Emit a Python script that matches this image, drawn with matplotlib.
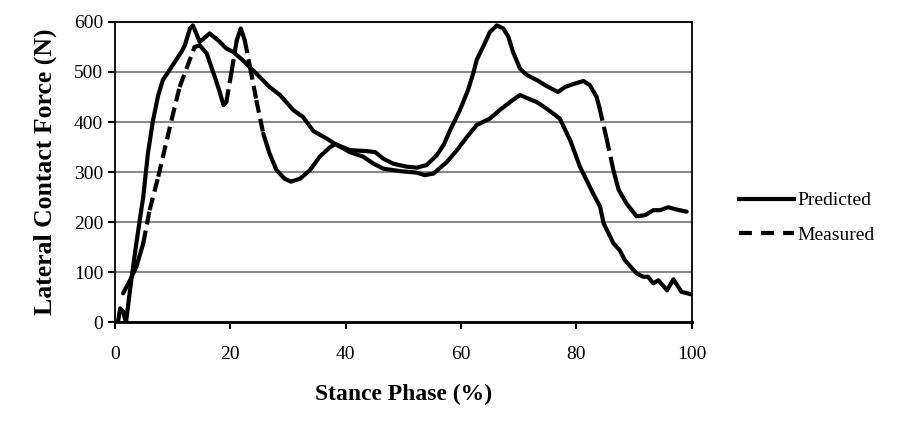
import numpy as np
import matplotlib
matplotlib.use("Agg")
from matplotlib import pyplot as plt
from matplotlib.lines import Line2D

plt.rcParams["font.family"] = ["Liberation Serif", "DejaVu Serif"]

# stance phase (%) / force (N)
pred_x = [0.5, 0.9, 1.4, 1.9, 2.9, 3.7, 4.9, 5.7, 6.6, 7.5, 8.3, 9.8, 11.5, 12.1, 13.0, 13.5,
          14.7, 16.4, 17.9, 19.3, 20.5, 22.2, 24.5, 26.8, 28.6, 30.9, 32.6, 34.4, 36.7, 38.2,
          40.7, 43.0, 44.8, 46.5, 49.4, 52.3, 53.7, 55.2, 57.5, 59.3, 61.0, 62.7, 65.0, 66.7,
          68.5, 70.2, 71.6, 73.1, 74.8, 77.1, 78.9, 80.6, 82.9, 84.1, 84.7, 86.4, 87.5, 88.4,
          90.4, 91.6, 92.4, 93.3, 94.2, 95.7, 96.8, 98.2, 99.9]
pred_y = [0, 28, 22, 0, 91, 158, 251, 337, 404, 454, 484, 510, 540, 553, 587, 593,
          560, 577, 563, 547, 540, 523, 497, 470, 454, 424, 410, 382, 367, 356,
          340, 331, 317, 307, 302, 299, 294, 297, 320, 344, 370, 394, 407, 424,
          440, 454, 447, 440, 427, 407, 364, 311, 257, 231, 198, 158, 144, 124,
          98, 91, 91, 78, 84, 64, 86, 61, 56]

meas_x = [1.4, 2.6, 3.7, 4.9, 6.0, 7.5, 9.8, 11.2, 13.8, 14.7, 15.9, 17.3, 18.1, 18.8,
          19.3, 20.2, 21.1, 21.8, 22.5, 23.4, 24.5, 25.7, 26.8, 28.0, 29.4, 30.5, 32.1, 33.8,
          35.5, 37.3, 38.2, 40.7, 43.6, 45.1, 46.5, 48.2, 50.5, 52.3, 54.0, 55.8, 57.0, 58.1,
          59.0, 59.8, 61.2, 62.1, 62.7, 63.8, 65.0, 66.2, 67.3, 68.2, 69.0, 70.2, 71.4, 73.1,
          74.8, 76.8, 78.0, 79.5, 81.2, 82.3, 83.5, 84.0, 85.2, 86.4, 87.3, 88.7, 90.4,
          91.9, 93.3, 94.5, 95.9, 97.1, 99.1]
meas_y = [58, 84, 111, 158, 224, 291, 404, 470, 550, 553, 537, 490, 462, 434,
          440, 500, 563, 587, 563, 510, 444, 377, 337, 304, 287, 281, 287, 304,
          331, 350, 356, 344, 342, 340, 327, 317, 311, 309, 314, 334, 355, 384,
          405, 424, 464, 497, 524, 550, 580, 593, 587, 570, 540, 507, 494, 484,
          472, 460, 470, 476, 482, 474, 450, 428, 368, 304, 265, 237, 212,
          214, 224, 224, 230, 226, 221]

x_ticks = [0, 20, 40, 60, 80, 100]
y_ticks = [0, 100, 200, 300, 400, 500, 600]

LW = 3.0
DASH = (3.1, 1.5)  # in line widths


def excel_dashed(ax, xs, ys, min_px=26):
    # long segments get a dash pattern restarted per segment, short ones look solid
    pts = ax.transData.transform(np.column_stack([xs, ys]))
    seg = np.hypot(np.diff(pts[:, 0]), np.diff(pts[:, 1]))
    start = 0
    for i, L in enumerate(seg):
        if L >= min_px:
            if i > start:
                ax.plot(xs[start:i + 1], ys[start:i + 1], color="black", lw=LW,
                        solid_capstyle="round", solid_joinstyle="round")
            ax.plot(xs[i:i + 2], ys[i:i + 2], color="black", lw=LW,
                    linestyle=(0, DASH), dash_capstyle="butt")
            start = i + 1
    if start < len(xs) - 1:
        ax.plot(xs[start:], ys[start:], color="black", lw=LW,
                solid_capstyle="round", solid_joinstyle="round")


fig = plt.figure(figsize=(9.02, 4.38), dpi=100)
ax = fig.add_axes([0.1275, 0.264, 0.767 - 0.1275, 0.950 - 0.264])
ax.set_xlim(0, 100)
ax.set_ylim(0, 600)
ax.set_xticks(x_ticks)
ax.set_yticks(y_ticks)
ax.yaxis.grid(True, color="#8a8a8a", lw=1.5)
ax.set_axisbelow(True)
for s in ax.spines.values():
    s.set_color("black")
    s.set_linewidth(1.3)
ax.spines["bottom"].set_linewidth(2)
ax.tick_params(direction="out", length=5, width=1.5, labelsize=14, colors="black")
ax.tick_params(axis="x", pad=12)

ax.plot(pred_x, pred_y, color="black", lw=LW, solid_capstyle="round", solid_joinstyle="round")
excel_dashed(ax, np.array(meas_x, float), np.array(meas_y, float))

ax.set_xlabel("Stance Phase (%)", fontsize=17, fontweight="bold", labelpad=15)
ax.set_ylabel("Lateral Contact Force (N)", fontsize=18.5, fontweight="bold", labelpad=12)

handles = [Line2D([], [], color="black", lw=LW),
           Line2D([], [], color="black", lw=LW, linestyle=(0, (3.1, 2.2)))]
fig.legend(handles, ["Predicted", "Measured"], loc="center left",
           bbox_to_anchor=(0.8, 0.503), frameon=False, fontsize=14,
           handlelength=2.8, handletextpad=0.2, labelspacing=0.86)

fig.savefig("out.png", dpi=100)
